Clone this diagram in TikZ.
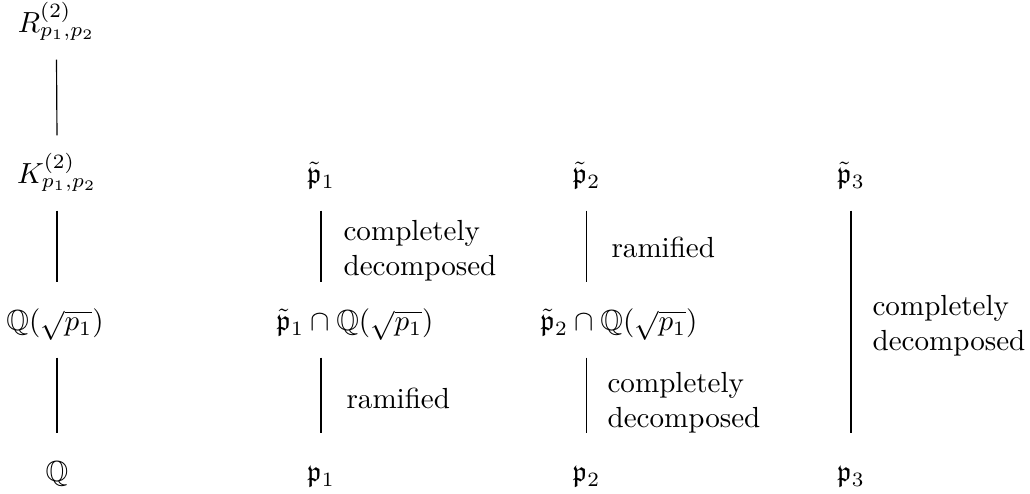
\documentclass[tikz,border=0pt]{standalone}
\usepackage{amsmath,amssymb}
\begin{document}
\begin{tikzpicture}[x=0.3439pt,y=-0.3439pt,
  obj/.style={anchor=base,inner sep=0pt,text height=16.5pt,text depth=9pt},
  lab/.style={inner sep=0pt,align=left},
  conn/.style={line width=0.4pt}]
\useasboundingbox (0,0) rectangle (1030,494);
% column 1
\node[obj] (R)  at (56.5,33) {$R^{(2)}_{p_1,p_2}$};
\node[obj] (K)  at (57,184) {$K^{(2)}_{p_1,p_2}$};
\node[obj] (Qs) at (55,331) {$\mathbb{Q}(\sqrt{p_1})$};
\node[obj] (Q)  at (57,482) {$\mathbb{Q}$};
% column 2
\node[obj] (t1) at (321,184) {$\tilde{\mathfrak p}_1$};
\node[obj] (I1) at (355,331) {$\tilde{\mathfrak p}_1\cap\mathbb{Q}(\sqrt{p_1})$};
\node[obj] (p1) at (321,482) {$\mathfrak p_1$};
% column 3
\node[obj] (t2) at (586.5,184) {$\tilde{\mathfrak p}_2$};
\node[obj] (I2) at (619,331) {$\tilde{\mathfrak p}_2\cap\mathbb{Q}(\sqrt{p_1})$};
\node[obj] (p2) at (586.5,482) {$\mathfrak p_2$};
% column 4
\node[obj] (t3) at (851,184) {$\tilde{\mathfrak p}_3$};
\node[obj] (p3) at (851,482) {$\mathfrak p_3$};
% connectors
\draw[conn] (R.south) -- (K.north);
\draw[conn] (K.south) -- (Qs.north -| K.south);
\draw[conn] (Qs.south -| Q.north) -- (Q.north);
\draw[conn] (t1.south) -- (t1.south |- I1.north);
\draw[conn] (p1.north |- I1.south) -- (p1.north);
\draw[conn] (t2.south) -- (t2.south |- I2.north);
\draw[conn] (p2.north |- I2.south) -- (p2.north);
\draw[conn] (t3.south) -- (p3.north);
% labels
\node[lab,anchor=west] (l1) at (343,251) {completely\\decomposed};
\node[lab,anchor=base west] (l2) at (346,409) {ramified};
\node[lab,anchor=base west] (l3) at (611,258) {ramified};
\node[lab,anchor=west] (l4) at (607,403) {completely\\decomposed};
\node[lab,anchor=west] (l5) at (872,326) {completely\\decomposed};
\end{tikzpicture}
\end{document}
